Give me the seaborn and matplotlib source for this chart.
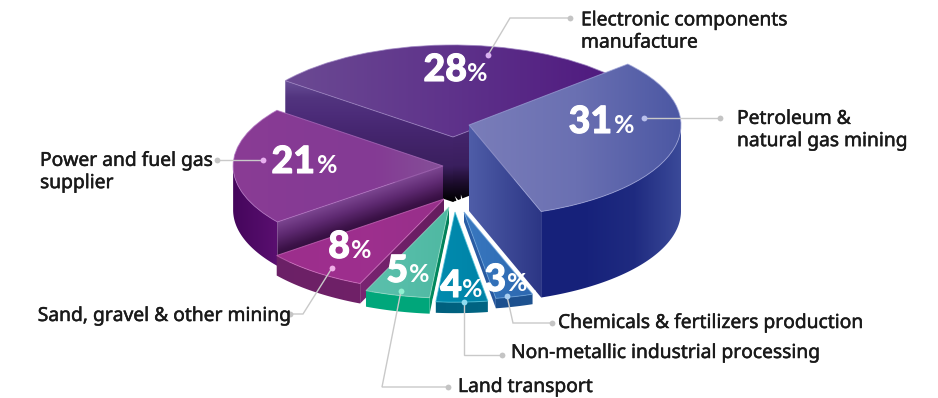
import numpy as np
import matplotlib
matplotlib.use("Agg")
import matplotlib.pyplot as plt
import matplotlib.patheffects as pe
from matplotlib.patches import PathPatch
from matplotlib.path import Path
from matplotlib.transforms import Affine2D
import seaborn as sns

# Industry shares, in percent, clockwise from the upper right
industries = ["Petroleum & natural gas mining", "Chemicals & fertilizers production",
              "Non-metallic industrial processing", "Land transport",
              "Sand, gravel & other mining", "Power and fuel gas supplier",
              "Electronic components manufacture"]
shares = [31, 3, 4, 5, 8, 21, 28]

sns.set_theme(style="white")
plt.rcParams["font.family"] = ["Noto Sans", "DejaVu Sans"]

# Projection of the tilted disc
START_ANGLE = 41.5
RX, RY = 212.0, 92.0

# Per-slice layout: wedge tip, wall depth and radius scale
tips = [(469, 125), (464, 212), (455, 212), (449, 207), (444, 199), (443, 166), (453, 137)]
depths = [86, 10, 11, 16, 20, 44, 65]
radius_scale = [1.0, 0.95, 0.98, 0.99, 1.0, 0.99, 1.0]

# Gradient stops: (colours, direction in degrees measured on screen)
top_fill = [(["#7a7db9", "#6a70b2", "#4b57a3"], 0),
            (["#3a78c0", "#3270b8", "#2d68b0"], 0),
            (["#008bae", "#0087ab", "#0082a6"], 0),
            (["#5cc0ac", "#55bda8", "#4fb8a2"], 0),
            (["#9c2e8c", "#9e2f8e", "#97308a"], 0),
            (["#8a3c94", "#863a94", "#843a94", "#845098"], 0),
            (["#6b4a93", "#5f338b", "#4f1a7f"], 0)]
arc_fill = [(["#16217a", "#17227b", "#1f2b80", "#3b4a99"], 0),
            (["#1c4f8e", "#1e5290"], 0),
            (["#00607e", "#006583"], 0),
            (["#00a87c", "#00a67a"], 0),
            (["#6b2066", "#702068"], 0),
            (["#45065c", "#5a0f70"], 0),
            (["#3a2060", "#3a2060"], 0)]
edge_fill = [(["#4f5da8", "#3d4996", "#2c3685"], 0),
             (["#2a5ea6", "#28589e"], 0),
             (["#00607e", "#00607e"], 0),
             (["#008c60", "#007f58"], 0),
             (["#7a2472", "#651c5e"], 0),
             (["#7d4792", "#5f2a72", "#3c1248", "#240a2e"], 71.4),
             (["#6a5098", "#52347f", "#4c2c79", "#45266f", "#402266", "#3a1f5e", "#1c0c2c", "#000000"], 90)]
edge_highlight = ["#9ea4d8", "#6da4dc", "#4fc4dc", "#9adcc8", "#d070c0", "#b070c0", "#9a80c0"]

# Drawing order from the back of the pie to the front
draw_order = [6, 5, 0, 4, 3, 2, 1]
white_outline = {1: 4.5, 2: 4.5}

# Percent labels: digits end at the first x, the sign starts at the second, on one baseline
percent_pos = [(612, 614, 133), (506, 507, 291), (462, 462, 297), (408, 409, 282),
               (350, 351, 258), (315, 317, 173), (467, 467, 81)]

# Call-out leaders: text dot, elbow points, slice dot
leader_paths = [[(720, 118), (644, 118)],
                [(552, 323), (513, 323), (507, 296)],
                [(502, 355), (464, 355), (464, 302)],
                [(448, 387), (382, 387), (401, 291)],
                [(290, 314), (303, 314), (332, 268)],
                [(217, 160), (263, 160)],
                [(570, 18), (510, 18), (488, 55)]]
slice_dots = ["#b9c0ec", "#a8cdf0", "#8fdcf0", "#8ff0d0", "#f0b0e8", "#e8b0f0", "#d8b0f0"]
label_texts = ["Petroleum &\nnatural gas mining", "Chemicals & fertilizers production",
               "Non-metallic industrial processing", "Land transport",
               "Sand, gravel & other mining", "Power and fuel gas\nsupplier",
               "Electronic components\nmanufacture"]
label_pos = [(737, 130, "left"), (558, 323, "left"), (511, 353, "left"), (458, 387, "left"),
             (290, 316, "right"), (40, 172, "left"), (581, 31.5, "left")]

fig = plt.figure(figsize=(9.38, 3.98), dpi=100)
ax = fig.add_axes([0, 0, 1, 1])
layer = [1]


def next_z():
    layer[0] += 1
    return layer[0]


def gradient_fill(path, stops, direction):
    """Paint a path with a linear gradient running along the given screen direction."""
    verts = path.interpolated(4).vertices if len(path.vertices) < 40 else path.vertices
    x0, y0 = verts.min(axis=0)
    x1, y1 = verts.max(axis=0)
    xs = np.arange(np.floor(x0), np.ceil(x1) + 1, 0.5)
    ys = np.arange(np.floor(y0), np.ceil(y1) + 1, 0.5)
    gx, gy = np.meshgrid(xs, ys)
    ux, uy = np.cos(np.radians(direction)), np.sin(np.radians(direction))
    proj = verts[:, 0] * ux + verts[:, 1] * uy
    t = (gx * ux + gy * uy - proj.min()) / max(proj.max() - proj.min(), 1e-6)
    cmap = sns.blend_palette(stops, n_colors=256, as_cmap=True)
    im = ax.imshow(t, cmap=cmap, vmin=0, vmax=1, origin="upper", aspect="auto",
                   extent=(xs[0], xs[-1], ys[-1], ys[0]), interpolation="bilinear", zorder=next_z())
    im.set_clip_path(PathPatch(path, transform=ax.transData))


def polygon(points):
    points = np.asarray(points)
    return Path(np.vstack([points, points[:1]]), closed=True)


def draw_slice(i, theta1, theta2):
    tx, ty = tips[i]
    depth = depths[i]
    rx, ry = RX * radius_scale[i], RY * radius_scale[i]
    to_screen = Affine2D().scale(rx, -ry).translate(tx, ty)
    top = to_screen.transform_path(Path.wedge(theta1, theta2))

    def rim_at(deg):
        rad = np.radians(deg)
        return np.column_stack([tx + rx * np.cos(rad), ty - ry * np.sin(rad)])

    tip = np.array([tx, ty], float)
    tip_low = tip + [0, depth]
    drop = np.array([0, depth])

    # A radial wall shows only when its outward normal points towards the viewer
    walls = []
    if np.sin(np.radians(theta1 - 90)) < 0:
        corner = rim_at(np.array([theta1]))[0]
        walls.append(polygon([tip, corner, corner + drop, tip_low]))
    if np.sin(np.radians(theta2 + 90)) < 0:
        corner = rim_at(np.array([theta2]))[0]
        walls.append(polygon([tip, corner, corner + drop, tip_low]))

    # The rim wall exists only along the front half of the ellipse
    deg = np.linspace(theta1, theta2, 240)
    front = deg[np.sin(np.radians(deg)) < 0]
    bands = []
    if front.size > 1:
        rim = rim_at(front)
        bands.append(polygon(np.vstack([rim, (rim + drop)[::-1]])))

    if i in white_outline:
        z = next_z()
        for shape in walls + bands + [top]:
            ax.add_patch(PathPatch(shape, fc="white", ec="white", lw=white_outline[i], zorder=z))

    for wall in walls:
        gradient_fill(wall, *edge_fill[i])
    for band in bands:
        gradient_fill(band, *arc_fill[i])
    gradient_fill(top, *top_fill[i])
    ax.add_patch(PathPatch(top, fc="none", ec=edge_highlight[i], lw=0.7, alpha=0.7, zorder=next_z()))


# Slice angles accumulate clockwise from the start angle
sweep = np.array(shares) / np.sum(shares) * 360.0
ends = START_ANGLE - np.cumsum(sweep)
starts = ends + sweep
for i in draw_order:
    draw_slice(i, ends[i], starts[i])

TOP = 1000
for path, dot_colour in zip(leader_paths, slice_dots):
    xs, ys = zip(*path)
    ax.plot(xs, ys, color="#c9c9c9", lw=1.0, zorder=TOP, solid_joinstyle="miter")
    ax.plot(xs[0], ys[0], "o", ms=4.2, mfc="#c4c4c4", mec="none", zorder=TOP + 1)
    ax.plot(xs[-1], ys[-1], "o", ms=4.2, mfc=dot_colour, mec="none", zorder=TOP + 1)

digit_weight = [pe.withStroke(linewidth=0.8, foreground="white")]
for share, (xd, xp, base) in zip(shares, percent_pos):
    ax.text(xd, base, str(share), family="Lato", weight="black", fontsize=27, color="white",
            ha="right", va="baseline", zorder=TOP + 2, path_effects=digit_weight)
    ax.text(xp, base, "%", family="Lato", weight="bold", fontsize=18, color="white",
            ha="left", va="baseline", zorder=TOP + 2)

label_weight = [pe.withStroke(linewidth=0.35, foreground="#1a1a1a")]
for text, (x, y, ha) in zip(label_texts, label_pos):
    ax.text(x, y, text, fontsize=13.85, color="#1a1a1a", ha=ha, va="center",
            linespacing=1.15, zorder=TOP + 2, path_effects=label_weight)

ax.set_xlim(0, 938)
ax.set_ylim(398, 0)
ax.axis("off")
fig.savefig("out.png", dpi=100, facecolor="white")
